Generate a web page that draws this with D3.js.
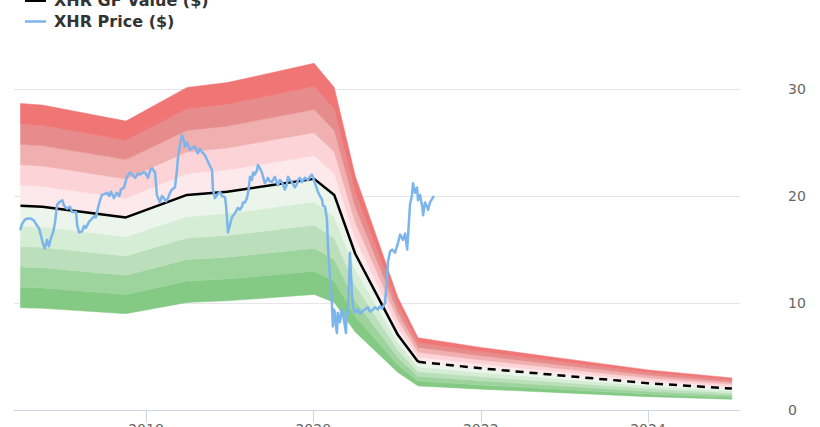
<!DOCTYPE html>
<html>
<head>
<meta charset="utf-8">
<script src="https://cdn.jsdelivr.net/npm/d3@7/dist/d3.min.js"></script>
<style>
  html, body { margin: 0; padding: 0; background: #ffffff; }
  svg { display: block; font-family: "DejaVu Sans", sans-serif; }
</style>
</head>
<body>
<svg id="chart" width="820" height="427"></svg>
<script>
// ---------- DATA ----------
const gfYears = [2016.50, 2016.76, 2017.76, 2018.49, 2018.97, 2020.01, 2020.25, 2020.50, 2021.01, 2021.25];
const gfValues = [19.1, 19.0, 18.0, 20.1, 20.4, 21.6, 20.1, 14.6, 7.0, 4.5];
const gfFutureYears = [2021.25, 2022.0, 2023.0, 2024.0, 2025.0];
const gfFutureValues = [4.5, 3.9, 3.2, 2.5, 2.0];

const priceYears = [
  2016.495, 2016.52, 2016.555, 2016.59, 2016.626, 2016.66, 2016.70, 2016.72, 2016.745, 2016.77,
  2016.79, 2016.817, 2016.84, 2016.865, 2016.89, 2016.913, 2016.937, 2016.96, 2017.0, 2017.02,
  2017.056, 2017.09, 2017.116, 2017.164, 2017.176, 2017.2, 2017.235, 2017.26, 2017.28, 2017.32,
  2017.343, 2017.38, 2017.40, 2017.426, 2017.45, 2017.474, 2017.51, 2017.534, 2017.56, 2017.58,
  2017.617, 2017.65, 2017.68, 2017.70, 2017.737, 2017.773, 2017.81, 2017.845, 2017.87, 2017.905,
  2017.93, 2017.964, 2017.988, 2018.024, 2018.048, 2018.072, 2018.108, 2018.13, 2018.167, 2018.19,
  2018.203, 2018.24, 2018.263, 2018.287, 2018.31, 2018.346, 2018.37, 2018.382, 2018.406, 2018.43,
  2018.454, 2018.466, 2018.49, 2018.50, 2018.526, 2018.55, 2018.585, 2018.61, 2018.62, 2018.645,
  2018.67, 2018.705, 2018.73, 2018.74, 2018.765, 2018.79, 2018.80, 2018.824, 2018.85, 2018.884,
  2018.908, 2018.944, 2018.956, 2018.968, 2018.98, 2019.004, 2019.027, 2019.063, 2019.087, 2019.10,
  2019.123, 2019.147, 2019.16, 2019.183, 2019.207, 2019.23, 2019.243, 2019.267, 2019.28, 2019.30,
  2019.326, 2019.338, 2019.362, 2019.386, 2019.42, 2019.446, 2019.458, 2019.48, 2019.505, 2019.54,
  2019.577, 2019.60, 2019.625, 2019.66, 2019.685, 2019.697, 2019.72, 2019.744, 2019.78, 2019.804,
  2019.816, 2019.84, 2019.864, 2019.90, 2019.936, 2019.96, 2019.983, 2019.995, 2020.02, 2020.055,
  2020.08, 2020.103, 2020.115, 2020.14, 2020.163, 2020.175, 2020.20, 2020.222, 2020.234, 2020.246,
  2020.258, 2020.27, 2020.282, 2020.294, 2020.318, 2020.34, 2020.354, 2020.378, 2020.39, 2020.40,
  2020.414, 2020.437, 2020.46, 2020.473, 2020.497, 2020.533, 2020.557, 2020.58, 2020.617, 2020.652,
  2020.676, 2020.70, 2020.736, 2020.772, 2020.796, 2020.82, 2020.855, 2020.88, 2020.89, 2020.915,
  2020.94, 2020.975, 2021.01, 2021.035, 2021.07, 2021.095, 2021.12, 2021.13, 2021.154, 2021.178,
  2021.19, 2021.214, 2021.238, 2021.25, 2021.274, 2021.30, 2021.31, 2021.333, 2021.357, 2021.37,
  2021.393, 2021.417, 2021.44
];
const priceValues = [
  16.8, 17.4, 17.8, 17.9, 17.9, 17.7, 17.2, 17.0, 16.3, 15.5,
  15.1, 15.9, 15.3, 16.1, 16.6, 17.6, 19.2, 19.4, 19.6, 19.1,
  18.8, 19.0, 18.5, 18.5, 17.3, 16.6, 16.7, 17.2, 17.0, 17.6,
  17.8, 18.1, 18.0, 18.9, 19.6, 20.1, 20.2, 20.3, 20.0, 20.4,
  19.8, 20.3, 20.0, 20.6, 20.8, 21.8, 22.2, 21.9, 21.7, 22.1,
  22.0, 22.2, 22.2, 21.7, 22.4, 22.6, 22.2, 20.1, 19.4, 20.0,
  19.9, 19.5, 19.8, 20.3, 20.6, 20.8, 22.4, 23.6, 24.8, 25.7,
  25.1, 24.6, 25.0, 24.8, 24.3, 24.5, 24.6, 24.1, 24.0, 24.4,
  24.1, 23.8, 23.4, 23.2, 22.8, 22.4, 20.6, 19.8, 20.1, 20.4,
  20.0, 19.9, 19.2, 18.0, 16.6, 17.3, 18.0, 18.4, 18.7, 18.9,
  18.7, 19.0, 19.4, 19.4, 19.8, 20.8, 21.8, 21.5, 22.2, 22.0,
  22.4, 22.9, 22.6, 22.2, 21.2, 21.5, 21.7, 21.4, 21.3, 21.8,
  21.0, 21.5, 21.3, 20.6, 21.1, 21.8, 21.5, 21.3, 20.8, 21.1,
  21.5, 21.7, 21.3, 21.7, 21.5, 21.8, 22.0, 21.8, 21.2, 20.4,
  20.0, 19.7, 19.1, 19.0, 17.8, 15.4, 12.4, 10.0, 7.8, 9.4,
  9.1, 7.9, 7.2, 9.1, 8.2, 9.4, 9.0, 7.8, 7.2, 9.1,
  9.0, 14.7, 11.0, 9.6, 9.1, 9.4, 9.0, 9.2, 9.4, 9.6,
  9.2, 9.3, 9.6, 9.4, 9.7, 9.5, 10.0, 12.3, 13.8, 14.8,
  15.0, 14.7, 15.6, 16.4, 15.9, 16.5, 15.0, 16.2, 19.2, 20.1,
  21.2, 20.3, 20.8, 19.6, 20.1, 19.0, 18.2, 19.4, 19.0, 18.7,
  19.4, 19.7, 20.0
];

const bandMultipliers = [0.5, 0.6, 0.7, 0.8, 0.9, 1.0, 1.1, 1.2, 1.3, 1.4, 1.5];
const bandColors = ["#84c984", "#9dd49d", "#badfba", "#d5ecd5", "#ebf5eb",
                    "#fde9eb", "#fcd3d7", "#f0b0b0", "#e68c8c", "#f07575"];
const yTicks = [0, 10, 20, 30];
const xTickYears = [2018, 2020, 2022, 2024];
const legendLabels = ["XHR GF Value ($)", "XHR Price ($)"];

// ---------- HELPERS ----------
function decToDate(d) {
  const y = Math.floor(d);
  const start = new Date(y, 0, 1).getTime();
  const end = new Date(y + 1, 0, 1).getTime();
  return new Date(start + (d - y) * (end - start));
}

const svg = d3.select("#chart");
const x = d3.scaleTime()
  .domain([decToDate(2016.423), decToDate(2025.097)])
  .range([14, 740]);
const y = d3.scaleLinear().domain([0, 30]).range([410, 89]);

// gridlines
svg.append("g").selectAll("line")
  .data(yTicks.filter(t => t > 0))
  .join("line")
  .attr("x1", 14).attr("x2", 740)
  .attr("y1", d => Math.round(y(d)) + 0.5).attr("y2", d => Math.round(y(d)) + 0.5)
  .attr("stroke", "#e6e6e6").attr("stroke-width", 1);

// y labels on the right
svg.append("g").selectAll("text")
  .data(yTicks)
  .join("text")
  .attr("x", 788).attr("y", d => y(d) + 5)
  .attr("fill", "#666666").attr("font-size", "14px")
  .text(d => d);

// bands
const gfAll = gfYears.map((t, i) => ({ t: decToDate(t), v: gfValues[i] }))
  .concat(gfFutureYears.slice(1).map((t, i) => ({ t: decToDate(t), v: gfFutureValues[i + 1] })));
const bandsG = svg.append("g");
for (let i = 0; i < bandColors.length; i++) {
  const m0 = bandMultipliers[i], m1 = bandMultipliers[i + 1];
  const area = d3.area()
    .x(d => x(d.t))
    .y0(d => y(d.v * m0))
    .y1(d => y(d.v * m1));
  bandsG.append("path")
    .datum(gfAll)
    .attr("d", area)
    .attr("fill", bandColors[i])
    .attr("stroke", bandColors[i]).attr("stroke-width", 0.5);
}

// x axis
const xAxisG = svg.append("g");
xAxisG.append("line")
  .attr("x1", 14).attr("x2", 740).attr("y1", 410.5).attr("y2", 410.5)
  .attr("stroke", "#ccd6eb").attr("stroke-width", 1);
xAxisG.selectAll("line.tick")
  .data(xTickYears)
  .join("line").attr("class", "tick")
  .attr("x1", d => Math.round(x(decToDate(d))) + 0.5)
  .attr("x2", d => Math.round(x(decToDate(d))) + 0.5)
  .attr("y1", 410).attr("y2", 423)
  .attr("stroke", "#ccd6eb").attr("stroke-width", 1);
xAxisG.selectAll("text")
  .data(xTickYears)
  .join("text")
  .attr("x", d => x(decToDate(d)))
  .attr("y", 434)
  .attr("text-anchor", "middle")
  .attr("fill", "#666666").attr("font-size", "14px")
  .text(d => d);

// GF value line
const line = d3.line().x(d => x(d.t)).y(d => y(d.v));
svg.append("path")
  .datum(gfYears.map((t, i) => ({ t: decToDate(t), v: gfValues[i] })))
  .attr("d", line)
  .attr("fill", "none").attr("stroke", "#000").attr("stroke-width", 2.5)
  .attr("stroke-linejoin", "round");
svg.append("path")
  .datum(gfFutureYears.map((t, i) => ({ t: decToDate(t), v: gfFutureValues[i] })))
  .attr("d", line)
  .attr("fill", "none").attr("stroke", "#000").attr("stroke-width", 2.5)
  .attr("stroke-dasharray", "8,6");

// price line
svg.append("path")
  .datum(priceYears.map((t, i) => ({ t: decToDate(t), v: priceValues[i] })))
  .attr("d", line)
  .attr("fill", "none").attr("stroke", "#7cb5ec").attr("stroke-width", 2.5)
  .attr("stroke-linejoin", "round");

// legend
const legend = svg.append("g");
const legendColors = ["#000000", "#7cb5ec"];
const legendWidths = [3, 2.5];
legendLabels.forEach((lab, i) => {
  const cy = 0 + i * 21;
  legend.append("line")
    .attr("x1", 25).attr("x2", 46).attr("y1", cy + 0.5).attr("y2", cy + 0.5)
    .attr("stroke", legendColors[i]).attr("stroke-width", legendWidths[i]);
  legend.append("text")
    .attr("x", 54).attr("y", cy + 6)
    .attr("fill", "#333333").attr("font-size", "16px").attr("font-weight", "bold")
    .text(lab);
});
</script>
</body>
</html>
